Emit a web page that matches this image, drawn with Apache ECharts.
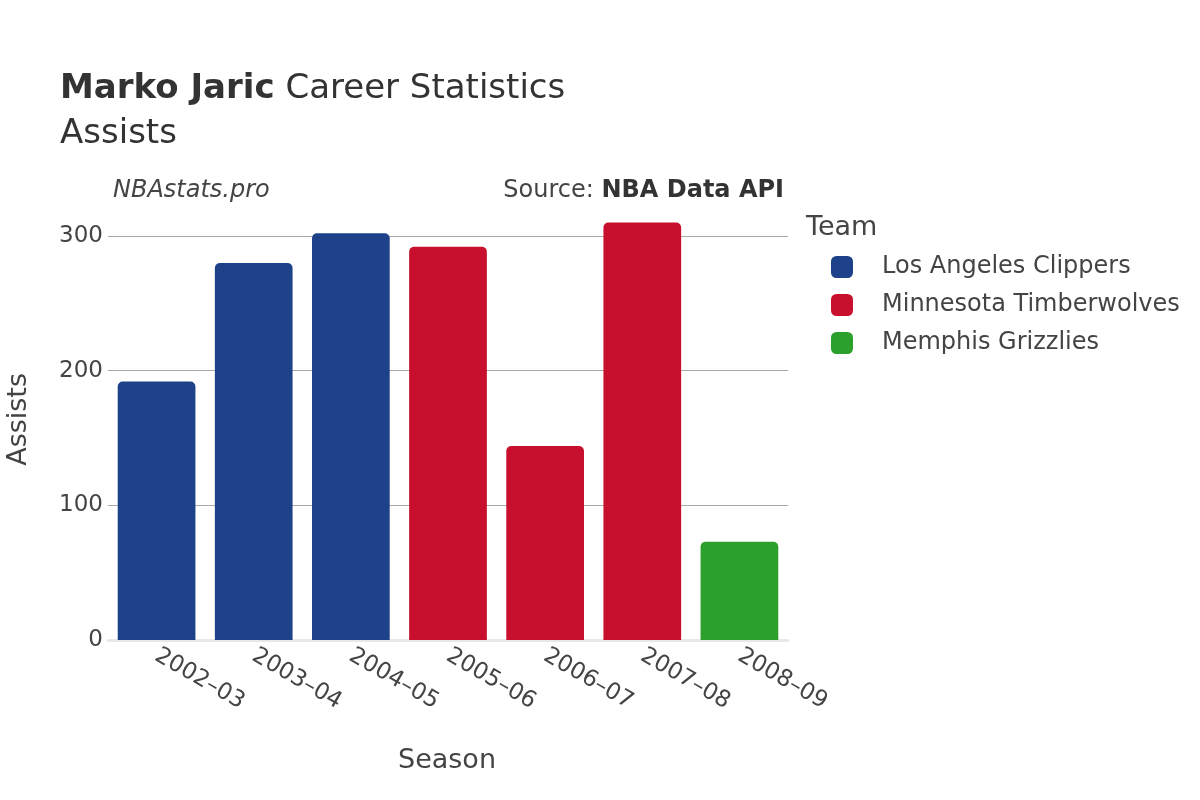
<!DOCTYPE html>
<html>
<head>
<meta charset="utf-8">
<script src="https://cdn.jsdelivr.net/npm/echarts@6/dist/echarts.min.js"></script>
<style>html,body{margin:0;padding:0;background:#fff;}#c{width:1200px;height:800px;}</style>
</head>
<body>
<div id="c"></div>
<script>
const seasons = ['2002–03', '2003–04', '2004–05', '2005–06', '2006–07', '2007–08', '2008–09'];
const teams = ['Los Angeles Clippers', 'Minnesota Timberwolves', 'Memphis Grizzlies'];
const teamColors = ['#1d428a', '#c8102e', '#2ca02c'];
const clippers = [192, 280, 302, null, null, null, null];
const timberwolves = [null, null, null, 292, 144, 310, null];
const grizzlies = [null, null, null, null, null, null, 73];
const yTicks = [0, 100, 200, 300];

const FONT = 'DejaVu Sans';
const seriesData = [clippers, timberwolves, grizzlies];

const chart = echarts.init(document.getElementById('c'), null, {renderer: 'canvas'});
chart.setOption({
  backgroundColor: '#fff',
  animation: false,
  textStyle: {fontFamily: FONT},
  title: {
    left: 60, top: 67, padding: 0,
    text: '{b|Marko Jaric}{n| Career Statistics}\n{n|Assists}',
    textStyle: {
      fontWeight: 'normal',
      rich: {
        b: {fontFamily: FONT, fontSize: 34, fontWeight: 'bold', color: '#333', lineHeight: 45},
        n: {fontFamily: FONT, fontSize: 34, fontWeight: 'normal', color: '#333', lineHeight: 45}
      }
    }
  },
  graphic: [
    {type: 'text', left: 113, top: 179, style: {text: 'NBAstats.pro', font: 'italic 24px "DejaVu Sans"', fill: '#444'}},
    {type: 'text', right: 416, top: 179, style: {
      text: '{n|Source: }{b|NBA Data API}',
      rich: {
        n: {fontFamily: FONT, fontSize: 24, fill: '#444'},
        b: {fontFamily: FONT, fontSize: 24, fontWeight: 'bold', fill: '#333'}
      }
    }},
    {type: 'text', left: 806, top: 214, style: {text: 'Team', font: '27px "DejaVu Sans"', fill: '#444'}},
    {type: 'text', left: 5, top: 373, rotation: Math.PI / 2, style: {text: 'Assists', font: '27px "DejaVu Sans"', fill: '#444', align: 'center', verticalAlign: 'top'}},
    {type: 'text', left: 398, top: 747, style: {text: 'Season', font: '27px "DejaVu Sans"', fill: '#444'}}
  ],
  legend: {
    orient: 'vertical',
    left: 831, top: 255, padding: 0,
    itemWidth: 22, itemHeight: 22, itemGap: 14,
    icon: 'roundRect',
    data: teams,
    textStyle: {fontFamily: FONT, fontSize: 24, lineHeight: 22, color: '#444', padding: [0, 0, 0, 24]}
  },
  grid: {left: 108, right: 412, top: 201, bottom: 160, containLabel: false},
  xAxis: {
    type: 'category',
    data: seasons,
    axisLine: {show: true, lineStyle: {color: '#e8e8e8', width: 3}},
    axisTick: {show: false},
    axisLabel: {rotate: -30, margin: 14, fontFamily: FONT, fontSize: 23, color: '#444', interval: 0}
  },
  yAxis: {
    type: 'value',
    min: 0, max: 326, interval: 100,
    axisLine: {show: false},
    axisTick: {show: false},
    axisLabel: {showMaxLabel: false, margin: 5, fontFamily: FONT, fontSize: 23, color: '#444',
      formatter: v => yTicks.includes(v) ? String(v) : ''},
    splitLine: {show: true, showMinLine: false, showMaxLine: false, lineStyle: {color: '#a8a8a8', width: 1}}
  },
  series: teams.map((t, i) => ({
    name: t,
    type: 'bar',
    stack: 'all',
    barCategoryGap: '20%',
    data: seriesData[i],
    itemStyle: {color: teamColors[i], borderRadius: [5, 5, 0, 0]},
    z: 3
  }))
});
</script>
</body>
</html>
